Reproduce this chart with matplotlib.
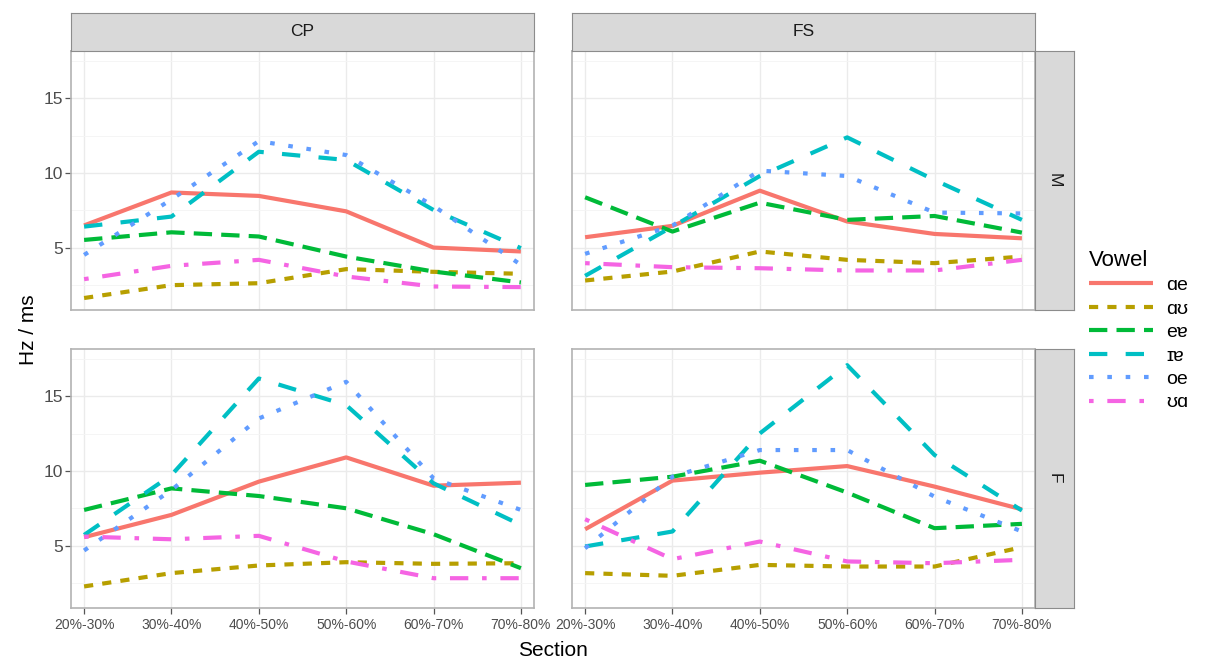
import matplotlib
matplotlib.use("Agg")
import matplotlib.pyplot as plt
from matplotlib.lines import Line2D

plt.rcParams['font.family'] = ['Liberation Sans', 'DejaVu Sans']

# Data
sections = ["20%-30%", "30%-40%", "40%-50%", "50%-60%", "60%-70%", "70%-80%"]
vowels = ["ɑe", "ɑʊ", "eɐ", "ɪɐ", "oe", "ʊɑ"]

cp_m_ae = [6.5, 8.7, 8.47, 7.44, 5.02, 4.76]
cp_m_au = [1.65, 2.51, 2.64, 3.58, 3.4, 3.27]
cp_m_ee = [5.53, 6.04, 5.76, 4.42, 3.42, 2.69]
cp_m_ie = [6.42, 7.09, 11.42, 10.87, 7.53, 4.98]
cp_m_oe = [4.53, 8.24, 12.13, 11.2, 7.8, 3.87]
cp_m_ua = [2.91, 3.8, 4.2, 3.09, 2.42, 2.38]

fs_m_ae = [5.71, 6.47, 8.82, 6.76, 5.93, 5.64]
fs_m_au = [2.82, 3.42, 4.76, 4.2, 3.98, 4.42]
fs_m_ee = [8.38, 6.09, 8.02, 6.87, 7.13, 6.02]
fs_m_ie = [3.13, 6.42, 9.8, 12.38, 9.53, 6.87]
fs_m_oe = [4.6, 6.49, 10.16, 9.8, 7.36, 7.3]
fs_m_ua = [3.98, 3.71, 3.64, 3.49, 3.49, 4.2]

cp_f_ae = [5.58, 7.07, 9.29, 10.91, 9.02, 9.22]
cp_f_au = [2.29, 3.18, 3.69, 3.91, 3.8, 3.84]
cp_f_ee = [7.4, 8.84, 8.33, 7.51, 5.78, 3.51]
cp_f_ie = [5.73, 9.73, 16.18, 14.4, 9.18, 6.4]
cp_f_oe = [4.69, 8.73, 13.51, 15.96, 9.51, 7.4]
cp_f_ua = [5.62, 5.44, 5.67, 3.96, 2.84, 2.84]

fs_f_ae = [6.11, 9.36, 9.89, 10.33, 8.96, 7.44]
fs_f_au = [3.18, 3.0, 3.73, 3.62, 3.62, 4.91]
fs_f_ee = [9.07, 9.62, 10.69, 8.56, 6.18, 6.47]
fs_f_ie = [4.96, 5.96, 12.51, 17.07, 11.07, 7.36]
fs_f_oe = [4.84, 9.62, 11.4, 11.4, 8.29, 5.96]
fs_f_ua = [6.78, 4.11, 5.29, 3.96, 3.84, 4.07]

panels = {
    ("CP", "M"): [cp_m_ae, cp_m_au, cp_m_ee, cp_m_ie, cp_m_oe, cp_m_ua],
    ("FS", "M"): [fs_m_ae, fs_m_au, fs_m_ee, fs_m_ie, fs_m_oe, fs_m_ua],
    ("CP", "F"): [cp_f_ae, cp_f_au, cp_f_ee, cp_f_ie, cp_f_oe, cp_f_ua],
    ("FS", "F"): [fs_f_ae, fs_f_au, fs_f_ee, fs_f_ie, fs_f_oe, fs_f_ua],
}

colors = ["#F8766D", "#B79F00", "#00BA38", "#00BFC4", "#619CFF", "#F564E3"]
dashes = [None, (2.2, 2.2), (4.4, 2.2), (4.4, 4.4), (1.1, 3.3), (1.1, 3.3, 4.4, 3.3)]
lw = 3.0

W, H = 1205, 663
fig = plt.figure(figsize=(W / 100, H / 100), dpi=100)

def box(x0, y0, x1, y1):
    return [x0 / W, 1 - y1 / H, (x1 - x0) / W, (y1 - y0) / H]

cols = {"CP": (71, 534), "FS": (572, 1035)}
rows = {"M": (51, 310), "F": (349, 608)}
x = list(range(len(sections)))

for (col, row), series in panels.items():
    x0, x1 = cols[col]
    y0, y1 = rows[row]
    ax = fig.add_axes(box(x0, y0, x1, y1))
    for vals, c, d in zip(series, colors, dashes):
        ln, = ax.plot(x, vals, color=c, lw=lw, solid_capstyle='butt', dash_capstyle='butt')
        if d is not None:
            ln.set_dashes(d)
    ax.set_xlim(-0.15, 5.15)
    ax.set_ylim(0.85, 18.15)
    ax.set_xticks(x)
    ax.set_yticks([5, 10, 15])
    ax.set_yticks([2.5, 7.5, 12.5, 17.5], minor=True)
    ax.grid(True, which='major', color='#ebebeb', lw=1.0)
    ax.grid(True, which='minor', axis='y', color='#f4f4f4', lw=0.6)
    ax.set_axisbelow(True)
    for s in ax.spines.values():
        s.set_color('#b3b3b3')
        s.set_linewidth(1.2)
    ax.tick_params(which='minor', length=0)
    ax.tick_params(which='major', length=4, color='#555555', width=0.9, labelcolor='#4d4d4d')
    if row == "F":
        ax.set_xticklabels(sections, fontsize=10)
    else:
        ax.tick_params(axis='x', length=0, labelbottom=False)
    if col == "CP":
        ax.tick_params(axis='y', labelsize=12.5, pad=2)
    else:
        ax.tick_params(axis='y', length=0, labelleft=False)

# strips
for col, (x0, x1) in cols.items():
    sa = fig.add_axes(box(x0, 13, x1, 51))
    sa.set_facecolor('#d9d9d9')
    sa.set_xticks([]); sa.set_yticks([])
    for s in sa.spines.values():
        s.set_color('#8c8c8c')
    sa.text(0.5, 0.5, col, ha='center', va='center', fontsize=12.5, color='#1a1a1a', transform=sa.transAxes)

for row, (y0, y1) in rows.items():
    sa = fig.add_axes(box(1035, y0, 1074, y1))
    sa.set_facecolor('#d9d9d9')
    sa.set_xticks([]); sa.set_yticks([])
    for s in sa.spines.values():
        s.set_color('#8c8c8c')
    sa.text(0.5, 0.5, row, ha='center', va='center', fontsize=12.5, color='#1a1a1a',
            rotation=-90, transform=sa.transAxes)

fig.text(28 / W, 1 - 330 / H, "Hz / ms", rotation=90, ha='center', va='center', fontsize=15)
fig.text(553 / W, 1 - 650 / H, "Section", ha='center', va='center', fontsize=15)

handles = []
for c, d in zip(colors, dashes):
    h = Line2D([], [], color=c, lw=lw, solid_capstyle='butt', dash_capstyle='butt')
    if d is not None:
        h.set_dashes(d)
    handles.append(h)
leg = fig.legend(handles, vowels, loc='upper left', bbox_to_anchor=(1081 / W, 1 - 242 / H),
                 frameon=False, title="Vowel", title_fontsize=16, fontsize=14,
                 handlelength=3.3, handletextpad=0.7, labelspacing=0.3, borderaxespad=0)
leg._legend_box.align = "left"

fig.savefig("out.png", dpi=100)
